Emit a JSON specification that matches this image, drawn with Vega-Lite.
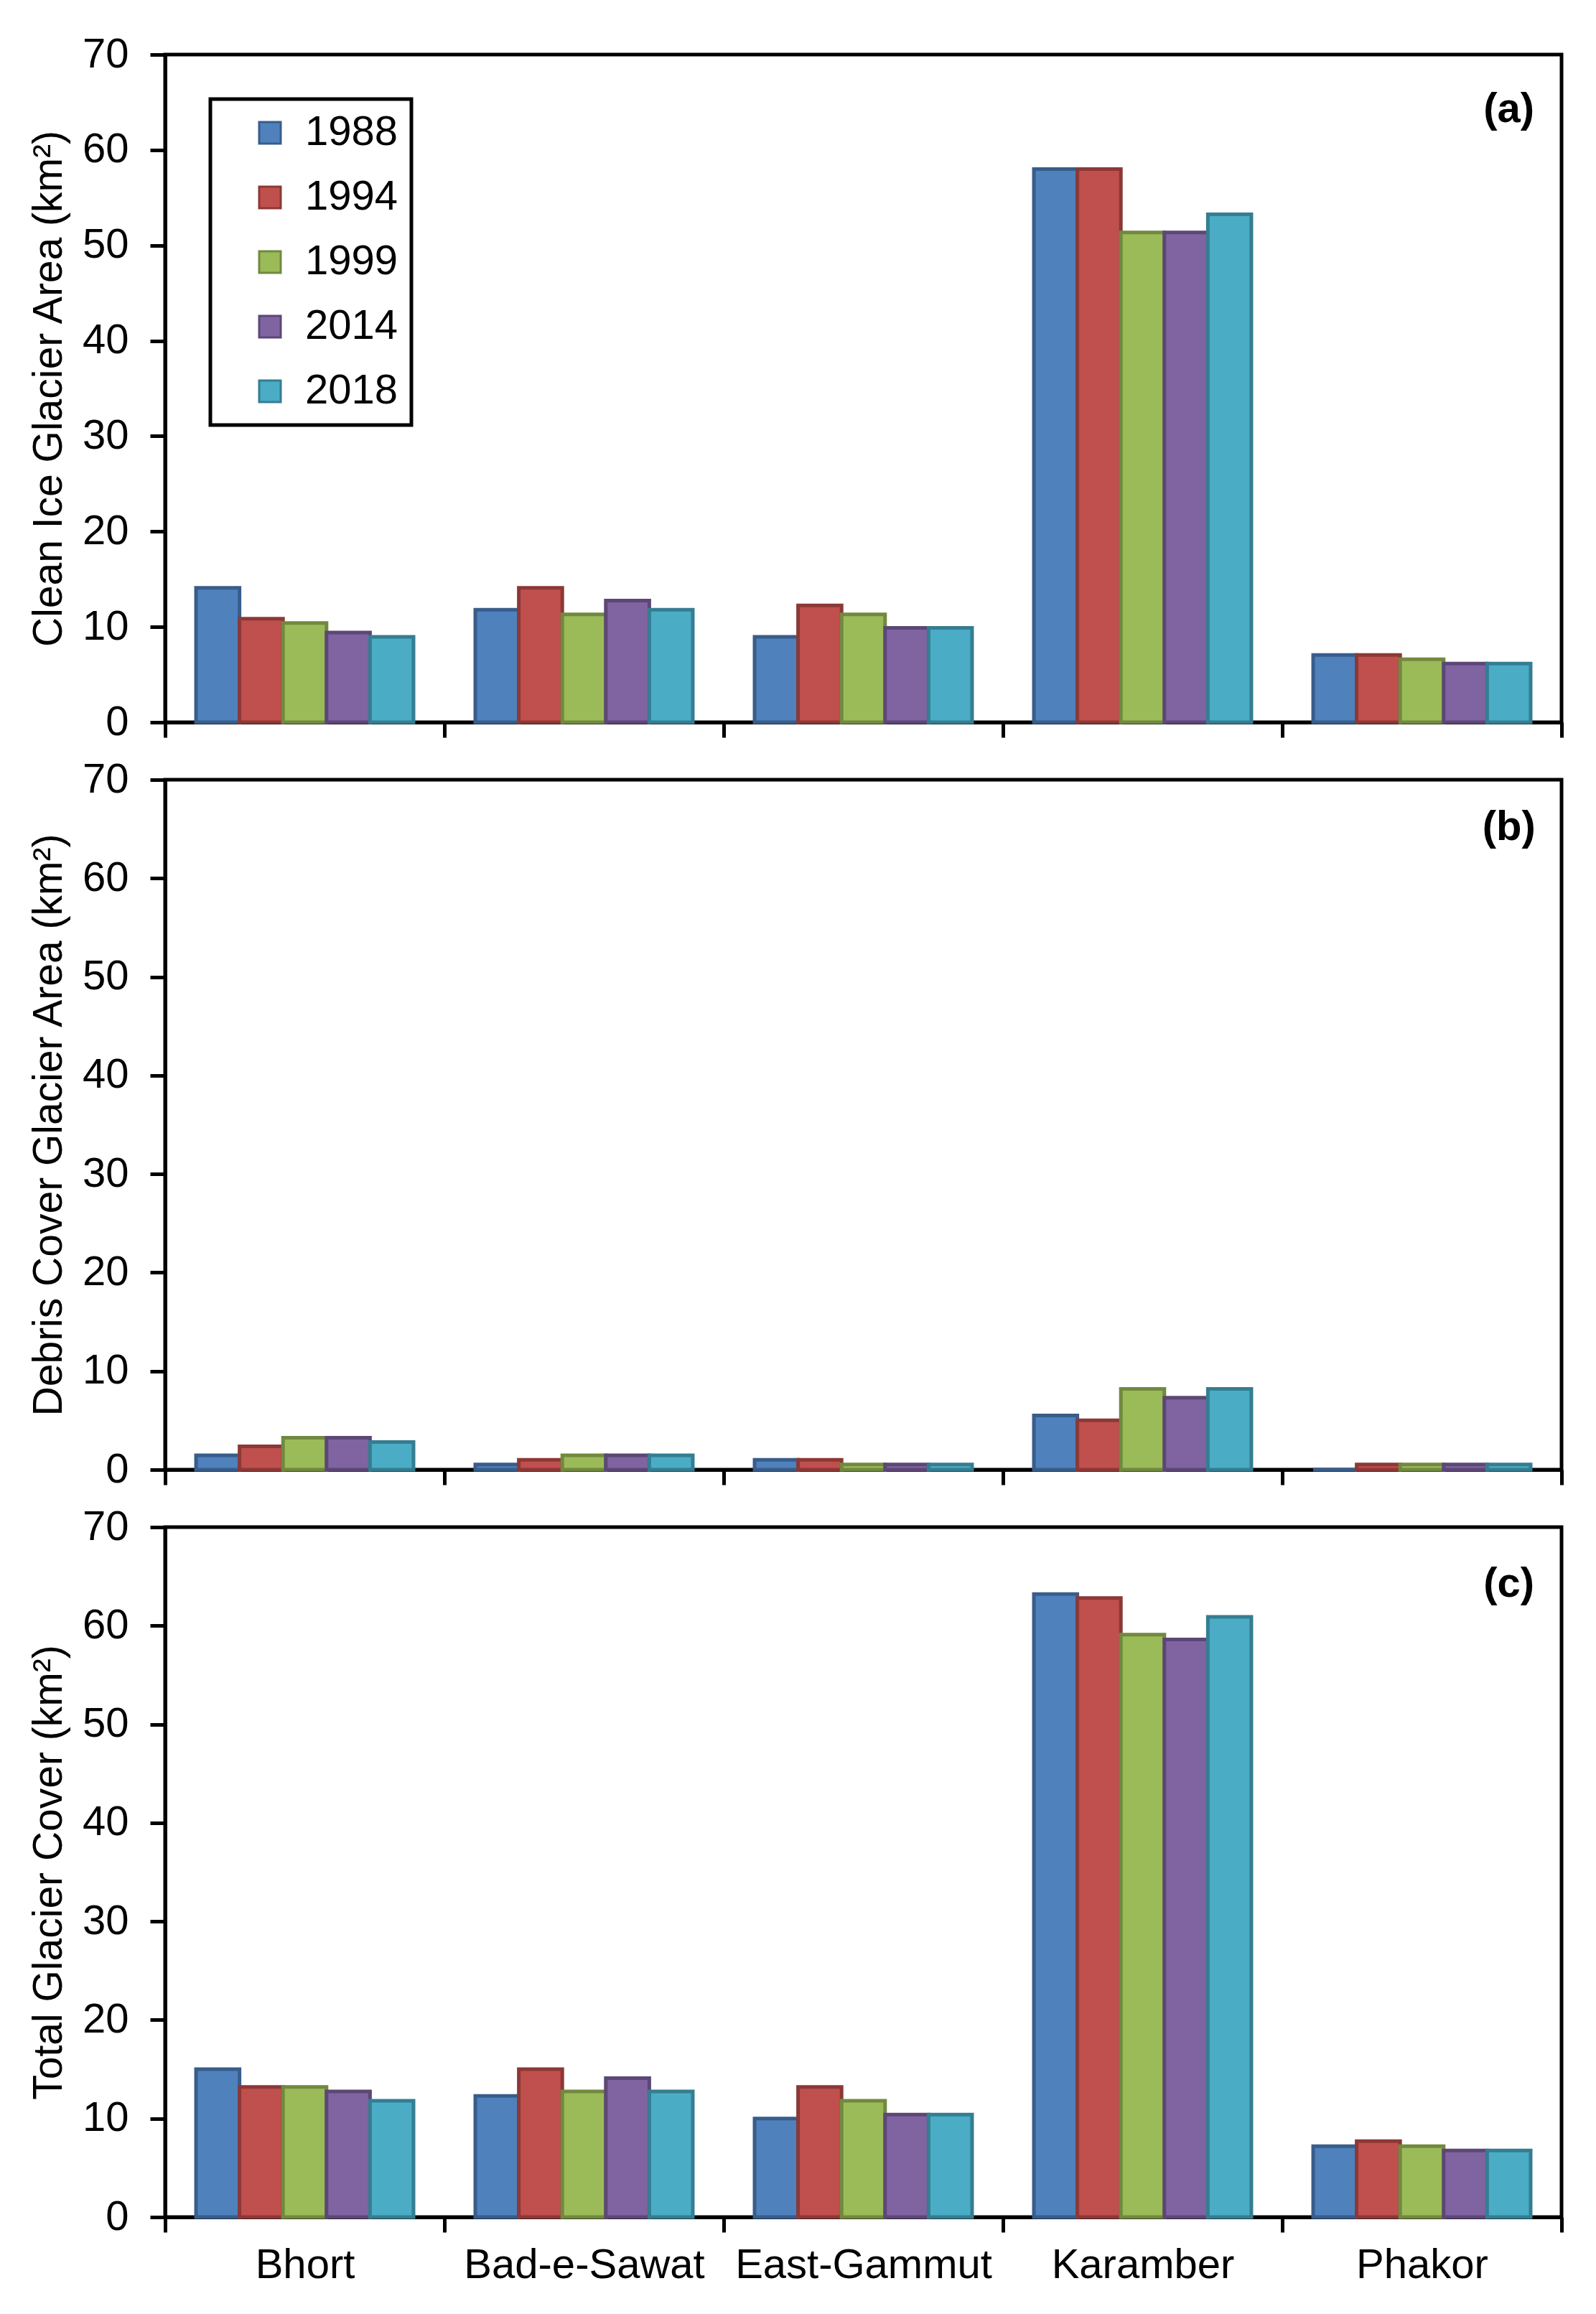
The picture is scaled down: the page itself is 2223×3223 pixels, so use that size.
{
  "$schema": "https://vega.github.io/schema/vega-lite/v6.json",
  "background": "white",
  "padding": {"left": 36, "top": 44, "right": 5, "bottom": 5},
  "spacing": 16,
  "datasets": {
    "glacier": [
      {"measure": "clean", "glacier": "Bhort", "year": "1988", "area": 14.1},
      {"measure": "clean", "glacier": "Bhort", "year": "1994", "area": 10.85},
      {"measure": "clean", "glacier": "Bhort", "year": "1999", "area": 10.4},
      {"measure": "clean", "glacier": "Bhort", "year": "2014", "area": 9.4},
      {"measure": "clean", "glacier": "Bhort", "year": "2018", "area": 8.95},
      {"measure": "clean", "glacier": "Bad-e-Sawat", "year": "1988", "area": 11.8},
      {"measure": "clean", "glacier": "Bad-e-Sawat", "year": "1994", "area": 14.1},
      {"measure": "clean", "glacier": "Bad-e-Sawat", "year": "1999", "area": 11.3},
      {"measure": "clean", "glacier": "Bad-e-Sawat", "year": "2014", "area": 12.75},
      {"measure": "clean", "glacier": "Bad-e-Sawat", "year": "2018", "area": 11.8},
      {"measure": "clean", "glacier": "East-Gammut", "year": "1988", "area": 8.95},
      {"measure": "clean", "glacier": "East-Gammut", "year": "1994", "area": 12.25},
      {"measure": "clean", "glacier": "East-Gammut", "year": "1999", "area": 11.3},
      {"measure": "clean", "glacier": "East-Gammut", "year": "2014", "area": 9.9},
      {"measure": "clean", "glacier": "East-Gammut", "year": "2018", "area": 9.9},
      {"measure": "clean", "glacier": "Karamber", "year": "1988", "area": 58.0},
      {"measure": "clean", "glacier": "Karamber", "year": "1994", "area": 58.0},
      {"measure": "clean", "glacier": "Karamber", "year": "1999", "area": 51.35},
      {"measure": "clean", "glacier": "Karamber", "year": "2014", "area": 51.35},
      {"measure": "clean", "glacier": "Karamber", "year": "2018", "area": 53.25},
      {"measure": "clean", "glacier": "Phakor", "year": "1988", "area": 7.05},
      {"measure": "clean", "glacier": "Phakor", "year": "1994", "area": 7.05},
      {"measure": "clean", "glacier": "Phakor", "year": "1999", "area": 6.6},
      {"measure": "clean", "glacier": "Phakor", "year": "2014", "area": 6.15},
      {"measure": "clean", "glacier": "Phakor", "year": "2018", "area": 6.15},

      {"measure": "debris", "glacier": "Bhort", "year": "1988", "area": 1.45},
      {"measure": "debris", "glacier": "Bhort", "year": "1994", "area": 2.37},
      {"measure": "debris", "glacier": "Bhort", "year": "1999", "area": 3.24},
      {"measure": "debris", "glacier": "Bhort", "year": "2014", "area": 3.24},
      {"measure": "debris", "glacier": "Bhort", "year": "2018", "area": 2.8},
      {"measure": "debris", "glacier": "Bad-e-Sawat", "year": "1988", "area": 0.53},
      {"measure": "debris", "glacier": "Bad-e-Sawat", "year": "1994", "area": 1.0},
      {"measure": "debris", "glacier": "Bad-e-Sawat", "year": "1999", "area": 1.45},
      {"measure": "debris", "glacier": "Bad-e-Sawat", "year": "2014", "area": 1.45},
      {"measure": "debris", "glacier": "Bad-e-Sawat", "year": "2018", "area": 1.45},
      {"measure": "debris", "glacier": "East-Gammut", "year": "1988", "area": 1.0},
      {"measure": "debris", "glacier": "East-Gammut", "year": "1994", "area": 1.0},
      {"measure": "debris", "glacier": "East-Gammut", "year": "1999", "area": 0.53},
      {"measure": "debris", "glacier": "East-Gammut", "year": "2014", "area": 0.53},
      {"measure": "debris", "glacier": "East-Gammut", "year": "2018", "area": 0.53},
      {"measure": "debris", "glacier": "Karamber", "year": "1988", "area": 5.5},
      {"measure": "debris", "glacier": "Karamber", "year": "1994", "area": 5.0},
      {"measure": "debris", "glacier": "Karamber", "year": "1999", "area": 8.2},
      {"measure": "debris", "glacier": "Karamber", "year": "2014", "area": 7.3},
      {"measure": "debris", "glacier": "Karamber", "year": "2018", "area": 8.2},
      {"measure": "debris", "glacier": "Phakor", "year": "1988", "area": 0.0},
      {"measure": "debris", "glacier": "Phakor", "year": "1994", "area": 0.53},
      {"measure": "debris", "glacier": "Phakor", "year": "1999", "area": 0.53},
      {"measure": "debris", "glacier": "Phakor", "year": "2014", "area": 0.53},
      {"measure": "debris", "glacier": "Phakor", "year": "2018", "area": 0.53},

      {"measure": "total", "glacier": "Bhort", "year": "1988", "area": 15.0},
      {"measure": "total", "glacier": "Bhort", "year": "1994", "area": 13.2},
      {"measure": "total", "glacier": "Bhort", "year": "1999", "area": 13.2},
      {"measure": "total", "glacier": "Bhort", "year": "2014", "area": 12.75},
      {"measure": "total", "glacier": "Bhort", "year": "2018", "area": 11.8},
      {"measure": "total", "glacier": "Bad-e-Sawat", "year": "1988", "area": 12.3},
      {"measure": "total", "glacier": "Bad-e-Sawat", "year": "1994", "area": 15.0},
      {"measure": "total", "glacier": "Bad-e-Sawat", "year": "1999", "area": 12.75},
      {"measure": "total", "glacier": "Bad-e-Sawat", "year": "2014", "area": 14.1},
      {"measure": "total", "glacier": "Bad-e-Sawat", "year": "2018", "area": 12.75},
      {"measure": "total", "glacier": "East-Gammut", "year": "1988", "area": 10.0},
      {"measure": "total", "glacier": "East-Gammut", "year": "1994", "area": 13.2},
      {"measure": "total", "glacier": "East-Gammut", "year": "1999", "area": 11.8},
      {"measure": "total", "glacier": "East-Gammut", "year": "2014", "area": 10.4},
      {"measure": "total", "glacier": "East-Gammut", "year": "2018", "area": 10.4},
      {"measure": "total", "glacier": "Karamber", "year": "1988", "area": 63.2},
      {"measure": "total", "glacier": "Karamber", "year": "1994", "area": 62.8},
      {"measure": "total", "glacier": "Karamber", "year": "1999", "area": 59.1},
      {"measure": "total", "glacier": "Karamber", "year": "2014", "area": 58.6},
      {"measure": "total", "glacier": "Karamber", "year": "2018", "area": 60.9},
      {"measure": "total", "glacier": "Phakor", "year": "1988", "area": 7.2},
      {"measure": "total", "glacier": "Phakor", "year": "1994", "area": 7.7},
      {"measure": "total", "glacier": "Phakor", "year": "1999", "area": 7.2},
      {"measure": "total", "glacier": "Phakor", "year": "2014", "area": 6.75},
      {"measure": "total", "glacier": "Phakor", "year": "2018", "area": 6.75}
    ]
  },
  "resolve": {
    "scale": {"x": "independent", "y": "independent", "xOffset": "independent", "fill": "independent", "stroke": "independent"}
  },
  "vconcat": [
    {
      "width": 1945,
      "height": 930,
      "layer": [
        {
          "data": {"name": "glacier"},
          "transform": [{"filter": "datum.measure === 'clean'"}],
          "mark": {"type": "bar", "strokeWidth": 5},
          "encoding": {
            "x": {"field": "glacier", "type": "nominal", "sort": ["Bhort", "Bad-e-Sawat", "East-Gammut", "Karamber", "Phakor"], "scale": {"paddingInner": 0, "paddingOuter": 0}, "axis": {"labels": false, "title": null}},
            "xOffset": {"field": "year", "type": "nominal", "scale": {"paddingInner": 0, "paddingOuter": 0.71}},
            "y": {"field": "area", "type": "quantitative", "scale": {"domain": [0, 70], "nice": false}, "axis": {"values": [0, 10, 20, 30, 40, 50, 60, 70], "title": "Clean Ice Glacier Area (km²)"}},
            "fill": {"field": "year", "type": "nominal", "scale": {"domain": ["1988", "1994", "1999", "2014", "2018"], "range": ["#4F81BD", "#C0504D", "#9BBB59", "#8064A2", "#4BACC6"]}, "legend": {"title": null, "orient": "none", "legendX": 63, "legendY": 62}},
            "stroke": {"field": "year", "type": "nominal", "scale": {"domain": ["1988", "1994", "1999", "2014", "2018"], "range": ["#385D8A", "#8C3836", "#71893F", "#5C4776", "#357D91"]}, "legend": {"title": null, "orient": "none", "legendX": 63, "legendY": 62}}
          }
        },
        {
          "data": {"values": [{}]},
          "mark": {"type": "text", "fontSize": 58, "fontWeight": "bold", "color": "black", "align": "center", "baseline": "middle"},
          "encoding": {"x": {"datum": "Phakor"}, "xOffset": {"datum": "2018"}, "y": {"datum": 64.2}, "text": {"value": "(a)"}}
        }
      ]
    },
    {
      "width": 1945,
      "height": 961,
      "layer": [
        {
          "data": {"name": "glacier"},
          "transform": [{"filter": "datum.measure === 'debris'"}],
          "mark": {"type": "bar", "strokeWidth": 5},
          "encoding": {
            "x": {"field": "glacier", "type": "nominal", "sort": ["Bhort", "Bad-e-Sawat", "East-Gammut", "Karamber", "Phakor"], "scale": {"paddingInner": 0, "paddingOuter": 0}, "axis": {"labels": false, "title": null}},
            "xOffset": {"field": "year", "type": "nominal", "scale": {"paddingInner": 0, "paddingOuter": 0.71}},
            "y": {"field": "area", "type": "quantitative", "scale": {"domain": [0, 70], "nice": false}, "axis": {"values": [0, 10, 20, 30, 40, 50, 60, 70], "title": "Debris Cover Glacier Area (km²)"}},
            "fill": {"field": "year", "type": "nominal", "scale": {"domain": ["1988", "1994", "1999", "2014", "2018"], "range": ["#4F81BD", "#C0504D", "#9BBB59", "#8064A2", "#4BACC6"]}, "legend": null},
            "stroke": {"field": "year", "type": "nominal", "scale": {"domain": ["1988", "1994", "1999", "2014", "2018"], "range": ["#385D8A", "#8C3836", "#71893F", "#5C4776", "#357D91"]}, "legend": null}
          }
        },
        {
          "data": {"values": [{}]},
          "mark": {"type": "text", "fontSize": 58, "fontWeight": "bold", "color": "black", "align": "center", "baseline": "middle"},
          "encoding": {"x": {"datum": "Phakor"}, "xOffset": {"datum": "2018"}, "y": {"datum": 65.1}, "text": {"value": "(b)"}}
        }
      ]
    },
    {
      "width": 1945,
      "height": 961,
      "layer": [
        {
          "data": {"name": "glacier"},
          "transform": [{"filter": "datum.measure === 'total'"}],
          "mark": {"type": "bar", "strokeWidth": 5},
          "encoding": {
            "x": {"field": "glacier", "type": "nominal", "sort": ["Bhort", "Bad-e-Sawat", "East-Gammut", "Karamber", "Phakor"], "scale": {"paddingInner": 0, "paddingOuter": 0}, "axis": {"labelAngle": 0, "labelLimit": 500, "title": null}},
            "xOffset": {"field": "year", "type": "nominal", "scale": {"paddingInner": 0, "paddingOuter": 0.71}},
            "y": {"field": "area", "type": "quantitative", "scale": {"domain": [0, 70], "nice": false}, "axis": {"values": [0, 10, 20, 30, 40, 50, 60, 70], "title": "Total Glacier Cover (km²)"}},
            "fill": {"field": "year", "type": "nominal", "scale": {"domain": ["1988", "1994", "1999", "2014", "2018"], "range": ["#4F81BD", "#C0504D", "#9BBB59", "#8064A2", "#4BACC6"]}, "legend": null},
            "stroke": {"field": "year", "type": "nominal", "scale": {"domain": ["1988", "1994", "1999", "2014", "2018"], "range": ["#385D8A", "#8C3836", "#71893F", "#5C4776", "#357D91"]}, "legend": null}
          }
        },
        {
          "data": {"values": [{}]},
          "mark": {"type": "text", "fontSize": 58, "fontWeight": "bold", "color": "black", "align": "center", "baseline": "middle"},
          "encoding": {"x": {"datum": "Phakor"}, "xOffset": {"datum": "2018"}, "y": {"datum": 64.2}, "text": {"value": "(c)"}}
        }
      ]
    }
  ],
  "config": {
    "font": "Liberation Sans",
    "view": {"stroke": "black", "strokeWidth": 5},
    "axis": {
      "domainColor": "black", "domainWidth": 5, "tickColor": "black", "tickWidth": 5, "tickSize": 21,
      "labelFontSize": 58, "labelColor": "black", "labelFont": "Liberation Sans",
      "titleFontSize": 57, "titleColor": "black", "titleFontWeight": "normal", "titleFont": "Liberation Sans",
      "grid": false, "labelPadding": 30
    },
    "axisX": {"tickBand": "extent", "labelPadding": 17, "labelLimit": 500},
    "axisY": {"titlePadding": 17},
    "legend": {
      "strokeColor": "black", "strokeWidth": 5, "padding": 18,
      "symbolType": "square", "symbolSize": 900, "symbolOffset": 36, "symbolStrokeWidth": 3,
      "labelFontSize": 58, "labelColor": "black", "labelFont": "Liberation Sans", "labelOffset": 20,
      "rowPadding": 32
    }
  }
}
